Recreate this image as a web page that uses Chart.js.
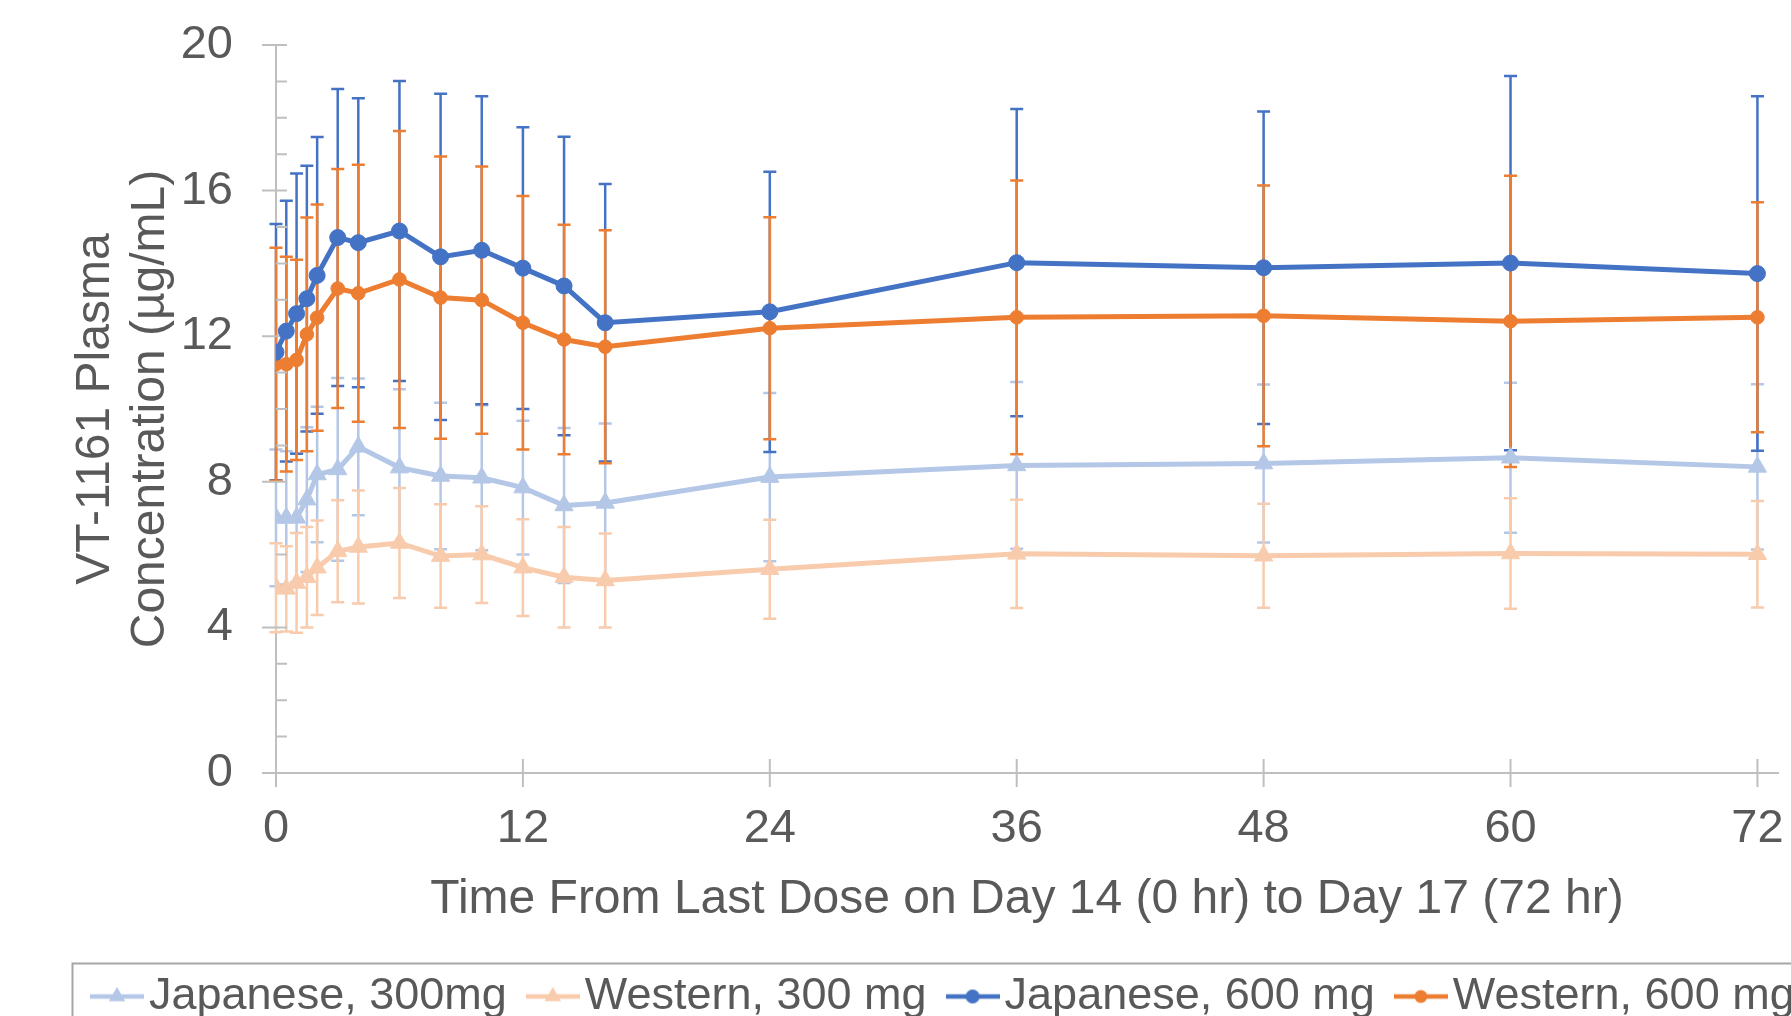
<!DOCTYPE html>
<html>
<head>
<meta charset="utf-8">
<script src="https://cdn.jsdelivr.net/npm/chart.js@4.4.1/dist/chart.umd.min.js"></script>
<style>
  html, body { margin: 0; padding: 0; background: #fff; overflow: hidden; }
  #wrap { width: 1791px; height: 1016px; overflow: hidden; position: relative; }
  #chart { display: block; }
</style>
</head>
<body>
<div id="wrap"><canvas id="chart" width="1850" height="1029"></canvas></div>
<script>
// sampling times (hr)
const hours = [0, 0.5, 1, 1.5, 2, 3, 4, 6, 8, 10, 12, 14, 16, 24, 36, 48, 60, 72];

// mean plasma concentration (µg/mL)
const jp300 = [7.01, 7.01, 7.01, 7.51, 8.20, 8.34, 8.96, 8.39, 8.16, 8.11, 7.84, 7.35, 7.42, 8.13, 8.45, 8.50, 8.66, 8.41];
const wn300 = [5.09, 5.06, 5.22, 5.38, 5.64, 6.09, 6.21, 6.32, 5.96, 6.00, 5.64, 5.38, 5.29, 5.60, 6.02, 5.97, 6.03, 6.01];
const jp600 = [11.56, 12.14, 12.62, 13.03, 13.67, 14.71, 14.57, 14.89, 14.18, 14.36, 13.87, 13.38, 12.37, 12.67, 14.02, 13.88, 14.01, 13.72];
const wn600 = [11.23, 11.23, 11.35, 12.05, 12.51, 13.31, 13.18, 13.56, 13.06, 12.99, 12.37, 11.91, 11.71, 12.22, 12.52, 12.56, 12.41, 12.52];

// standard deviations (error bars)
const jp300sd = [1.88, 1.83, 1.77, 1.99, 1.86, 2.51, 1.88, 2.15, 2.01, 1.99, 1.84, 2.13, 2.18, 2.31, 2.29, 2.17, 2.06, 2.27];
const wn300sd = [1.22, 1.17, 1.37, 1.38, 1.30, 1.40, 1.55, 1.51, 1.42, 1.33, 1.33, 1.38, 1.29, 1.36, 1.49, 1.43, 1.52, 1.46];
const jp600sd = [3.52, 3.58, 3.85, 3.65, 3.80, 4.08, 3.97, 4.12, 4.48, 4.23, 3.87, 4.10, 3.81, 3.85, 4.22, 4.29, 5.14, 4.87];
const wn600sd = [3.20, 2.95, 2.75, 3.21, 3.11, 3.28, 3.53, 4.08, 3.88, 3.67, 3.48, 3.15, 3.20, 3.05, 3.76, 3.58, 4.00, 3.16];

const seriesNames = ['Japanese, 300mg', 'Western, 300 mg', 'Japanese, 600 mg', 'Western, 600 mg'];
const yTicks = [0, 4, 8, 12, 16, 20];
const xTicks = [0, 12, 24, 36, 48, 60, 72];

const textColor = '#595959';
const axisColor = '#bfbfbf';

Chart.defaults.font.family = "'Liberation Sans', Arial, sans-serif";
Chart.defaults.color = textColor;

function pts(vals) {
  return hours.map((h, i) => ({ x: h, y: vals[i] }));
}

// little line+marker pictures for the legend
function makeIcon(color, style, r) {
  const c = document.createElement('canvas');
  c.width = 54; c.height = 24;
  const g = c.getContext('2d');
  g.strokeStyle = color; g.lineWidth = 4.5;
  g.beginPath(); g.moveTo(0, 12); g.lineTo(54, 12); g.stroke();
  g.fillStyle = color;
  g.beginPath();
  if (style === 'triangle') {
    g.moveTo(27, 12 - r);
    g.lineTo(27 + r * 0.866, 12 + r * 0.5);
    g.lineTo(27 - r * 0.866, 12 + r * 0.5);
    g.closePath();
  } else {
    g.arc(27, 12, r, 0, Math.PI * 2);
  }
  g.fill();
  return c;
}

const seriesStyle = [
  { color: '#b4c7e7', marker: 'triangle', radius: 10.5, mr: 9.5, sd: jp300sd },
  { color: '#f8cbad', marker: 'triangle', radius: 10.5, mr: 9.5, sd: wn300sd },
  { color: '#4472c4', marker: 'circle', radius: 8, mr: 7, sd: jp600sd },
  { color: '#ed7d31', marker: 'circle', radius: 6.8, mr: 6.5, sd: wn600sd }
];
const means = [jp300, wn300, jp600, wn600];
const icons = seriesStyle.map(s => makeIcon(s.color, s.marker, s.mr));

const errorBars = {
  id: 'errorBars',
  beforeDatasetsDraw(chart) {
    const { ctx } = chart;
    const xs = chart.scales.x, ys = chart.scales.y;
    chart.data.datasets.forEach(ds => {
      ctx.save();
      ctx.strokeStyle = ds.borderColor;
      ctx.lineWidth = 2.5;
      ds.data.forEach((p, j) => {
        const sd = ds.sd[j];
        const px = xs.getPixelForValue(p.x);
        const top = ys.getPixelForValue(p.y + sd);
        const bot = ys.getPixelForValue(p.y - sd);
        ctx.beginPath();
        ctx.moveTo(px, top); ctx.lineTo(px, bot);
        ctx.moveTo(px - 6.5, top); ctx.lineTo(px + 6.5, top);
        ctx.moveTo(px - 6.5, bot); ctx.lineTo(px + 6.5, bot);
        ctx.stroke();
      });
      ctx.restore();
    });
  }
};

// cross tick marks on both axes, minor ticks inside on y, frame round the legend
const axisTicks = {
  id: 'axisTicks',
  beforeDatasetsDraw(chart) {
    const { ctx, chartArea } = chart;
    const xs = chart.scales.x, ys = chart.scales.y;
    ctx.save();
    ctx.strokeStyle = axisColor;
    ctx.lineWidth = 2;
    ctx.beginPath();
    const ax = chartArea.left, ay = chartArea.bottom;
    for (let v = ys.min; v <= ys.max; v += 1) {
      const py = ys.getPixelForValue(v);
      if (v % 4 === 0) { ctx.moveTo(ax - 14, py); ctx.lineTo(ax + 11, py); }
      else { ctx.moveTo(ax, py); ctx.lineTo(ax + 11, py); }
    }
    xs.ticks.forEach(t => {
      const px = xs.getPixelForValue(t.value);
      ctx.moveTo(px, ay - 14); ctx.lineTo(px, ay + 14);
    });
    ctx.stroke();
    ctx.restore();
  },
  afterDraw(chart) {
    const lg = chart.legend;
    const { ctx } = chart;
    ctx.save();
    ctx.strokeStyle = '#a6a6a6';
    ctx.lineWidth = 2;
    ctx.strokeRect(lg.left + 1.5, lg.top + 26, chart.width, 200);
    ctx.restore();
  }
};

new Chart(document.getElementById('chart'), {
  type: 'line',
  data: {
    datasets: seriesNames.map((name, i) => ({
      label: name,
      data: pts(means[i]),
      sd: seriesStyle[i].sd,
      borderColor: seriesStyle[i].color,
      backgroundColor: seriesStyle[i].color,
      pointBackgroundColor: seriesStyle[i].color,
      pointBorderColor: seriesStyle[i].color,
      pointBorderWidth: 1,
      pointStyle: seriesStyle[i].marker,
      pointRadius: seriesStyle[i].radius,
      borderWidth: 5,
      tension: 0,
      fill: false
    }))
  },
  options: {
    responsive: false,
    animation: false,
    devicePixelRatio: 1,
    layout: { padding: { left: 71, top: 45, right: 0, bottom: 0 } },
    plugins: {
      tooltip: { enabled: false },
      legend: {
        position: 'bottom',
        align: 'start',
        labels: {
          color: textColor,
          font: { size: 45 },
          padding: 36.5,
          usePointStyle: true,
          pointStyleWidth: 19,
          generateLabels(chart) {
            const items = Chart.defaults.plugins.legend.labels.generateLabels(chart);
            items.forEach((it, i) => { it.pointStyle = icons[i]; it.fontColor = textColor; });
            return items;
          }
        }
      }
    },
    scales: {
      x: {
        type: 'linear',
        min: 0,
        max: 73,
        grid: { display: false, drawTicks: true, tickLength: 25, color: 'transparent' },
        border: { display: true, color: axisColor, width: 2 },
        ticks: { stepSize: 12, padding: 3, font: { size: 47 }, color: textColor, maxRotation: 0 },
        afterBuildTicks(s) { s.ticks = xTicks.map(v => ({ value: v })); },
        afterFit(s) { s.height = 164.5; },
        title: {
          display: true,
          text: 'Time From Last Dose on Day 14 (0 hr) to Day 17 (72 hr)',
          font: { size: 48, lineHeight: 1.13 },
          color: textColor,
          padding: { top: 0, bottom: 11 }
        }
      },
      y: {
        min: 0,
        max: 20,
        grid: { display: false, drawTicks: true, tickLength: 40, color: 'transparent' },
        border: { display: true, color: axisColor, width: 2 },
        ticks: { stepSize: 4, padding: 3, font: { size: 47 }, color: textColor },
        afterBuildTicks(s) { s.ticks = yTicks.map(v => ({ value: v })); },
        afterFit(s) { s.width = 205; },
        title: {
          display: true,
          text: ['VT-1161 Plasma', 'Concentration (µg/mL)'],
          font: { size: 48, lineHeight: 1.13 },
          color: textColor,
          padding: { top: -2, bottom: 0 }
        }
      },
      yPad: {
        position: 'right',
        display: true,
        grid: { display: false, drawTicks: false },
        border: { display: false },
        ticks: { display: false },
        afterFit(s) { s.width = 72; }
      }
    }
  },
  plugins: [errorBars, axisTicks]
});
</script>
</body>
</html>
